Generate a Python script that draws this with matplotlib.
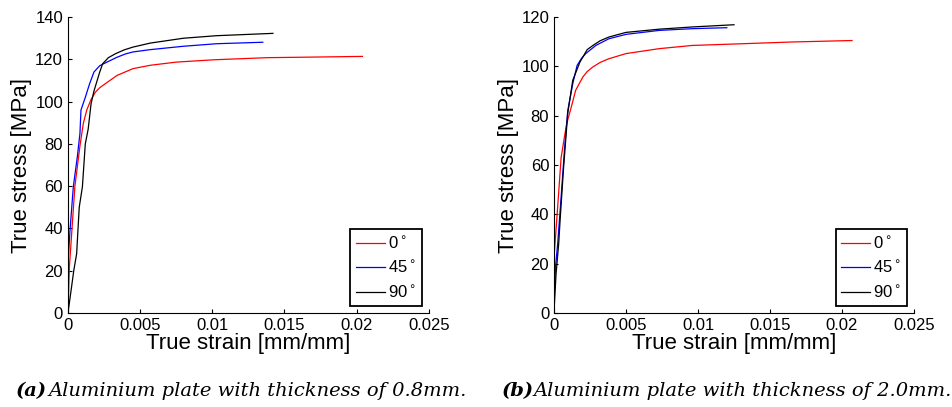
import matplotlib.pyplot as plt

# true stress-strain curves, aluminium plate 0.8 mm
strain_a_0 = [0, 0.0001, 0.00048, 0.00083, 0.00106, 0.0013, 0.0016, 0.0019, 0.0022, 0.0029, 0.0034, 0.0045, 0.0057, 0.0075, 0.0101, 0.0138, 0.0172, 0.0204]
stress_a_0 = [0, 21.9, 60, 79, 89.6, 96, 101, 104.5, 106.6, 110, 112.4, 115.6, 117.2, 118.7, 119.8, 120.8, 121.1, 121.4]
strain_a_45 = [0, 0.00014, 0.00037, 0.00065, 0.00083, 0.0009, 0.0012, 0.0015, 0.0018, 0.0022, 0.0027, 0.0034, 0.004, 0.0045, 0.0057, 0.008, 0.0103, 0.0135]
stress_a_45 = [23.5, 39, 59.7, 74, 85, 96, 102, 108.5, 114, 117, 118.7, 121, 122.6, 123.5, 124.6, 126.2, 127.4, 128.1]
strain_a_90 = [0, 0.00025, 0.0004, 0.0006, 0.00078, 0.001, 0.0012, 0.0014, 0.0016, 0.0018, 0.0022, 0.0024, 0.0028, 0.0033, 0.0039, 0.0045, 0.0057, 0.008, 0.0103, 0.0142]
stress_a_90 = [0, 12.4, 20, 28, 50, 59.7, 80, 87, 99, 105, 114, 117.9, 120.8, 122.7, 124.5, 125.8, 127.7, 130, 131.2, 132.3]

# aluminium plate 2.0 mm
strain_b_0 = [0, 0.00025, 0.00049, 0.00072, 0.00088, 0.0012, 0.0015, 0.002, 0.0023, 0.0027, 0.0032, 0.0038, 0.005, 0.0073, 0.0096, 0.0131, 0.0165, 0.0207]
stress_b_0 = [22.8, 43, 63, 71.4, 76.8, 83.6, 90.3, 95.7, 97.9, 99.8, 101.6, 103.1, 105.2, 107.2, 108.5, 109.2, 109.9, 110.5]
strain_b_45 = [0, 0.0001, 0.00025, 0.00049, 0.00072, 0.00095, 0.0013, 0.0016, 0.0019, 0.0022, 0.0029, 0.0038, 0.005, 0.0073, 0.0096, 0.012]
stress_b_45 = [5, 18.8, 28, 47, 66, 82, 93, 100.4, 103.2, 105.2, 108.5, 111.2, 113, 114.6, 115.3, 115.7]
strain_b_90 = [0, 0.00014, 0.00032, 0.00042, 0.00065, 0.00095, 0.0013, 0.0018, 0.0023, 0.0027, 0.0032, 0.0038, 0.005, 0.0073, 0.0096, 0.0125]
stress_b_90 = [1, 16, 28, 37.7, 58, 81, 94.4, 101.8, 106.8, 108.5, 110.4, 111.9, 113.8, 115.1, 116, 116.9]

labels = ['0$^\\circ$', '45$^\\circ$', '90$^\\circ$']
colors = ['#ff0000', '#0000ff', '#000000']
xticks = [0, 0.005, 0.01, 0.015, 0.02, 0.025]
xtick_labels = ['0', '0.005', '0.01', '0.015', '0.02', '0.025']
captions = [('(a)', 'Aluminium plate with thickness of 0.8mm.'),
            ('(b)', 'Aluminium plate with thickness of 2.0mm.')]

plt.rcParams['font.family'] = ['Liberation Sans', 'DejaVu Sans']

fig = plt.figure(figsize=(9.52, 4.07), dpi=100)
ax1 = fig.add_axes([0.0714, 0.231, 0.379, 0.727])
ax2 = fig.add_axes([0.582, 0.231, 0.378, 0.727])

panels = [
    (ax1, [(strain_a_0, stress_a_0), (strain_a_45, stress_a_45), (strain_a_90, stress_a_90)], 140),
    (ax2, [(strain_b_0, stress_b_0), (strain_b_45, stress_b_45), (strain_b_90, stress_b_90)], 120),
]

for ax, curves, ymax in panels:
    for (x, y), c, lab in zip(curves, colors, labels):
        ax.plot(x, y, color=c, lw=0.9, label=lab)
    ax.set_xlim(0, 0.025)
    ax.set_ylim(0, ymax)
    ax.set_xticks(xticks)
    ax.set_xticklabels(xtick_labels)
    ax.spines['top'].set_visible(False)
    ax.spines['right'].set_visible(False)
    ax.tick_params(direction='in', labelsize=12, length=3)
    ax.set_xlabel('True strain [mm/mm]', fontsize=16, labelpad=0)
    ax.set_ylabel('True stress [MPa]', fontsize=16, labelpad=2)
    leg = ax.legend(loc='lower right', fontsize=12, fancybox=False, framealpha=1,
                    handlelength=1.7, handletextpad=0.2, borderpad=0.35,
                    labelspacing=0.45, borderaxespad=0.4)
    leg.get_frame().set_edgecolor('black')
    leg.get_frame().set_linewidth(1.3)

# sub-figure captions: bold tag followed by italic text
for x0, x1, (tag, text) in zip([16 / 952, 502 / 952], [48 / 952, 533 / 952], captions):
    fig.text(x0, 0.027, tag, fontsize=14, family='DejaVu Serif', style='italic',
             weight='bold', ha='left', va='baseline')
    fig.text(x1, 0.027, text, fontsize=14, family='DejaVu Serif', style='italic',
             ha='left', va='baseline')

fig.savefig('out.png', dpi=100)
